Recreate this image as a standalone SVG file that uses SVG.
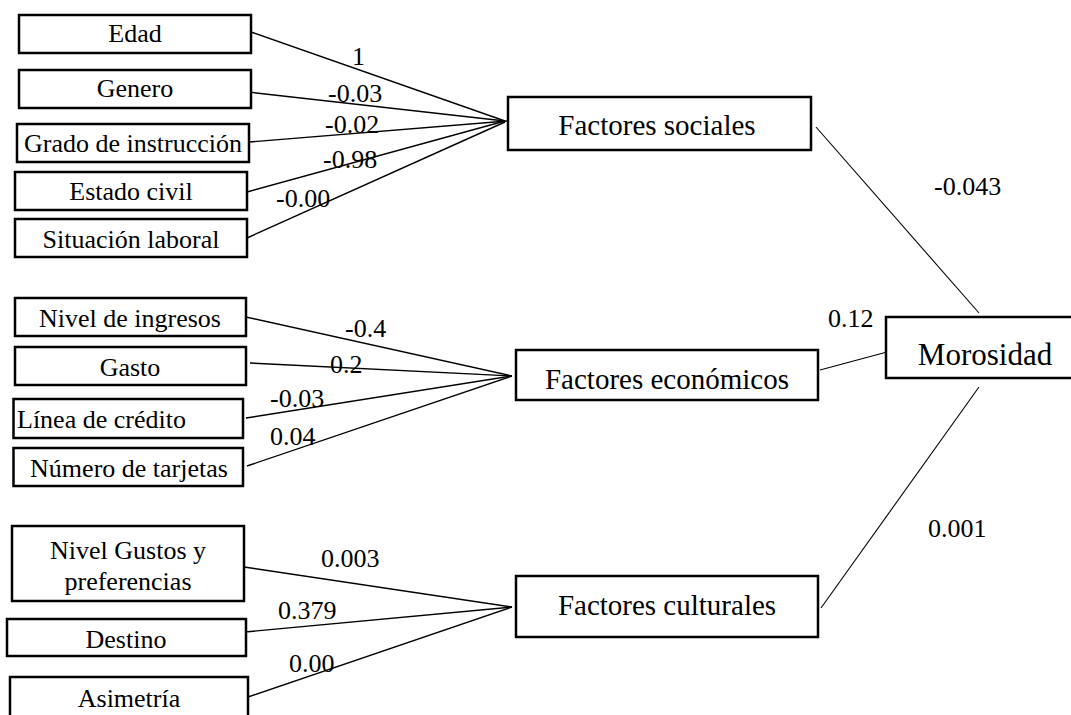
<svg xmlns="http://www.w3.org/2000/svg" width="1071" height="715" viewBox="0 0 1071 715">
<style>
  .box { fill: #ffffff; stroke: #000000; stroke-width: 2.5; }
  text { font-family: 'Liberation Serif', 'DejaVu Serif', serif; fill: #000000; }
  .t { font-size: 26px; text-anchor: middle; }
  .f { font-size: 29px; text-anchor: middle; }
  .m { font-size: 31px; text-anchor: middle; }
  .lbl { font-size: 26px; }
  .c { stroke: #000000; stroke-width: 1.4; fill: none; }
  .c2 { stroke: #000000; stroke-width: 1.1; fill: none; }
</style>
<rect width="1071" height="715" fill="#ffffff"/>

<g id="connectors">
  <line class="c" x1="251" y1="32" x2="505" y2="121"/>
  <line class="c" x1="248" y1="92" x2="505" y2="121"/>
  <line class="c" x1="249" y1="142" x2="507" y2="121"/>
  <line class="c" x1="247" y1="192" x2="505" y2="121"/>
  <line class="c" x1="247" y1="238" x2="505" y2="122"/>

  <line class="c" x1="246" y1="317" x2="512" y2="376"/>
  <line class="c" x1="250" y1="363" x2="512" y2="376"/>
  <line class="c" x1="246" y1="418" x2="512" y2="376"/>
  <line class="c" x1="247" y1="466" x2="512" y2="376"/>

  <line class="c" x1="244" y1="567" x2="512" y2="607"/>
  <line class="c" x1="245" y1="632" x2="512" y2="607"/>
  <line class="c" x1="248" y1="697" x2="512" y2="607"/>

  <line class="c2" x1="816" y1="127" x2="979" y2="313"/>
  <line class="c2" x1="820" y1="370" x2="887" y2="352"/>
  <line class="c2" x1="821" y1="608" x2="979" y2="387"/>

  <text class="lbl" x="352" y="65">1</text>
  <text class="lbl" x="328" y="102">-0.03</text>
  <text class="lbl" x="325" y="133">-0.02</text>
  <text class="lbl" x="323" y="168">-0.98</text>
  <text class="lbl" x="276" y="207">-0.00</text>

  <text class="lbl" x="345" y="337">-0.4</text>
  <text class="lbl" x="330" y="373">0.2</text>
  <text class="lbl" x="270" y="407">-0.03</text>
  <text class="lbl" x="270" y="445">0.04</text>

  <text class="lbl" x="321" y="567">0.003</text>
  <text class="lbl" x="278" y="619">0.379</text>
  <text class="lbl" x="289" y="672">0.00</text>

  <text class="lbl" x="934" y="195">-0.043</text>
  <text class="lbl" x="828" y="327">0.12</text>
  <text class="lbl" x="928" y="537">0.001</text>
</g>

<g id="edad"><rect class="box" x="19" y="15" width="232" height="38"/><text class="t" x="135" y="42">Edad</text></g>
<g id="genero"><rect class="box" x="19" y="70" width="232" height="38"/><text class="t" x="135" y="97">Genero</text></g>
<g id="grado"><rect class="box" x="17" y="124" width="232" height="38"/><text class="t" x="133" y="152">Grado de instrucción</text></g>
<g id="estado-civil"><rect class="box" x="15" y="172" width="232" height="38"/><text class="t" x="131" y="200">Estado civil</text></g>
<g id="situacion-laboral"><rect class="box" x="15" y="219" width="232" height="38"/><text class="t" x="131" y="248">Situación laboral</text></g>

<g id="nivel-ingresos"><rect class="box" x="15" y="298" width="231" height="38"/><text class="t" x="130" y="327">Nivel de ingresos</text></g>
<g id="gasto"><rect class="box" x="15" y="347" width="231" height="38"/><text class="t" x="130" y="376">Gasto</text></g>
<g id="linea-credito"><rect class="box" x="13.5" y="399" width="229.5" height="39"/><text class="t" x="17" y="428" style="text-anchor:start">Línea de crédito</text></g>
<g id="numero-tarjetas"><rect class="box" x="13.5" y="448" width="229.5" height="38"/><text class="t" x="129" y="477">Número de tarjetas</text></g>

<g id="gustos"><rect class="box" x="12" y="526" width="232" height="75"/><text class="t" x="128" y="559">Nivel Gustos y</text><text class="t" x="128" y="590">preferencias</text></g>
<g id="destino"><rect class="box" x="7" y="619" width="239" height="37"/><text class="t" x="126" y="648">Destino</text></g>
<g id="asimetria"><rect class="box" x="10" y="677" width="238" height="50"/><text class="t" x="129" y="707">Asimetría</text></g>

<g id="factores-sociales"><rect class="box" x="508" y="97" width="303" height="53"/><text class="f" x="657" y="135">Factores sociales</text></g>
<g id="factores-economicos"><rect class="box" x="516" y="350" width="302" height="50"/><text class="f" x="667" y="389">Factores económicos</text></g>
<g id="factores-culturales"><rect class="box" x="516" y="576" width="302" height="61"/><text class="f" x="667" y="615">Factores culturales</text></g>
<g id="morosidad"><rect class="box" x="886" y="317" width="200" height="61"/><text class="m" x="985" y="365">Morosidad</text></g>
</svg>
